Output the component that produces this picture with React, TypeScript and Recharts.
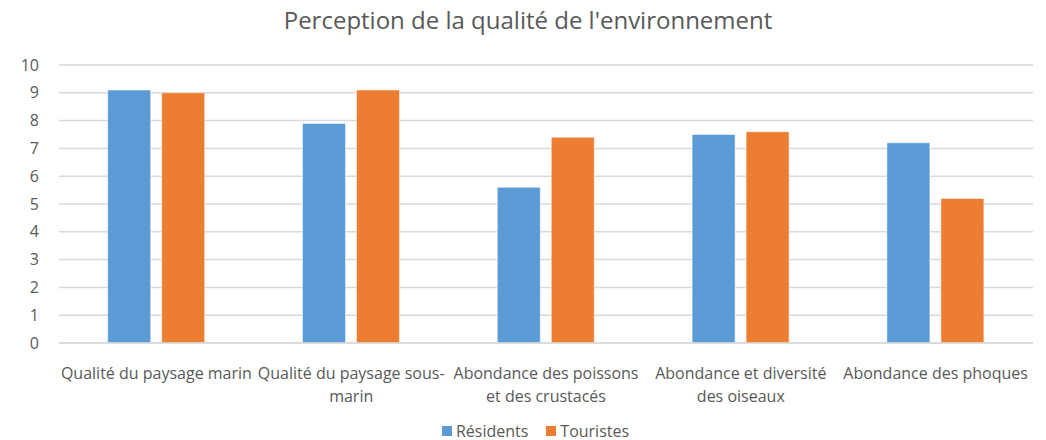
import { Bar, BarChart, CartesianGrid, Legend, XAxis, YAxis } from 'recharts'

const categories = [
  'Qualité du paysage marin',
  'Qualité du paysage sous-\nmarin',
  'Abondance des poissons\net des crustacés',
  'Abondance et diversité\ndes oiseaux',
  'Abondance des phoques',
]
const residents = [9.1, 7.9, 5.6, 7.5, 7.2]
const touristes = [9.0, 9.1, 7.4, 7.6, 5.2]
const yTicks = [0, 1, 2, 3, 4, 5, 6, 7, 8, 9, 10]

const SERIES = [
  { key: 'residents', label: 'Résidents', color: '#5B9BD5' },
  { key: 'touristes', label: 'Touristes', color: '#ED7D31' },
]

const data = categories.map((name, i) => ({ name, residents: residents[i], touristes: touristes[i] }))

const FONT = '"Open Sans", sans-serif'
const TEXT = '#595959'

function CategoryTick({ x, y, payload }: any) {
  const lines = String(payload.value).split('\n')
  return (
    <text x={x} y={y} textAnchor="middle" fill={TEXT} fontSize={16} fontFamily={FONT}>
      {lines.map((line, i) => (
        <tspan key={i} x={x} y={y + 28 + i * 23}>{line}</tspan>
      ))}
    </text>
  )
}

function LegendContent() {
  return (
    <div style={{ display: 'flex', justifyContent: 'center', gap: 18, fontFamily: FONT, fontSize: 16, lineHeight: '18px', color: TEXT, paddingLeft: 38, marginTop: 2 }}>
      {SERIES.map(s => (
        <div key={s.key} style={{ display: 'flex', alignItems: 'center', gap: 4 }}>
          <span style={{ width: 10, height: 10, background: s.color, display: 'inline-block' }} />
          <span>{s.label}</span>
        </div>
      ))}
    </div>
  )
}

export default function App() {
  return (
    <div style={{ position: 'absolute', left: 0, top: 0, width: 1046, height: 440, background: '#fff' }}>
      <div style={{ position: 'absolute', top: 3, left: 0, width: 1056, textAlign: 'center', fontFamily: FONT, fontSize: 24, color: TEXT }}>
        Perception de la qualité de l'environnement
      </div>
      <BarChart width={1046} height={440} data={data} margin={{ top: 65, right: 13, left: 0, bottom: 0 }}
        barCategoryGap="25%" barGap={11}>
        <CartesianGrid vertical={false} stroke="#d9d9d9" strokeWidth={1.5} />
        <XAxis dataKey="name" interval={0} height={77} tick={<CategoryTick />} tickLine={false}
          axisLine={{ stroke: '#d9d9d9', strokeWidth: 1.5 }} />
        <YAxis domain={[0, 10]} ticks={yTicks} width={59} tickLine={false} axisLine={false}
          tick={{ fill: TEXT, fontSize: 16, fontFamily: FONT }} tickMargin={14} />
        <Legend verticalAlign="bottom" height={20} content={<LegendContent />} />
        {SERIES.map(s => (
          <Bar key={s.key} dataKey={s.key} name={s.label} fill={s.color} stroke="rgba(255,255,255,0.5)" strokeWidth={1} isAnimationActive={false} />
        ))}
      </BarChart>
    </div>
  )
}
